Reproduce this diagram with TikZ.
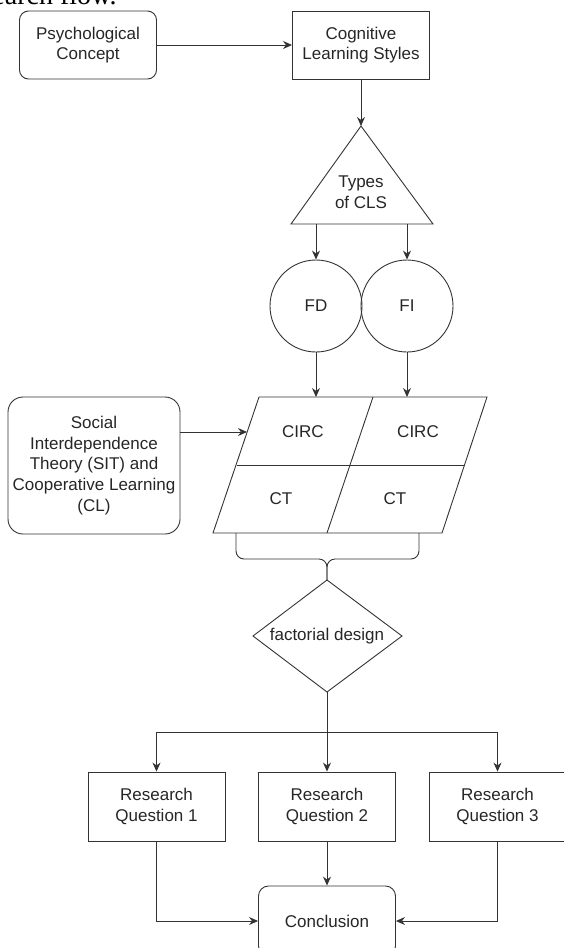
\documentclass[tikz,border=0pt]{standalone}
\usepackage{fontspec}
\setmainfont{Liberation Sans}
\newfontfamily\capfont{Liberation Serif}
\usetikzlibrary{arrows.meta}
\begin{document}
\begin{tikzpicture}[x=1pt,y=-1pt,
  line width=0.9pt,
  every node/.style={font=\fontsize{17}{20.6}\selectfont, align=center, inner sep=0pt, text=black!85},
  box/.style={draw=black!80, minimum width=137pt, minimum height=68pt},
  rbox/.style={box, rounded corners=9pt},
  circ/.style={draw=black!80, circle, minimum size=92pt},
  arr/.style={-{Stealth[length=9pt,width=8pt]}}
]
\useasboundingbox (0,0) rectangle (563,948);
% caption fragment, cut by the top edge as in the reference
\node[font=\capfont\fontsize{28}{30}\selectfont, anchor=base east, text=black] (cap) at (117,4.5) {Research flow.};

\begin{scope}[draw=black!80]
% top row
\node[rbox] (psych) at (88,45) {Psychological\\Concept};
\node[box] (cog) at (361,45) {Cognitive\\Learning Styles};
\draw[arr] (psych) -- (cog);

% triangle
\coordinate (tt) at (361,126);
\coordinate (tl) at (291,224);
\coordinate (tr) at (433,224);
\draw (tt) -- (tr) -- (tl) -- cycle;
\node (types) at (361,192) {Types\\of CLS};
\draw[arr] (cog.south) -- (tt);

% circles
\coordinate (tb1) at (316,224);
\coordinate (tb2) at (407,224);
\node[circ] (fd) at (316,306) {FD};
\node[circ] (fi) at (407,306) {FI};
\draw[arr] (tb1) -- (fd);
\draw[arr] (tb2) -- (fi);

% parallelogram grid
\coordinate (pa) at (259,397);
\coordinate (pb) at (487,397);
\coordinate (pc) at (442,533);
\coordinate (pd) at (213,533);
\draw (pa) -- (pb) -- (pc) -- (pd) -- cycle;
\coordinate (ml) at (236.5,465);
\coordinate (mr) at (464.5,465);
\draw (ml) -- (mr);
\coordinate (dvt) at (373,397);
\coordinate (dvb) at (327,533);
\draw (dvt) -- (dvb);
\node (c1) at (303,432) {CIRC};
\node (c2) at (418,432) {CIRC};
\node (t1) at (281,499) {CT};
\node (t2) at (395,499) {CT};
\coordinate (pin1) at (316,397);
\coordinate (pin2) at (407,397);
\draw[arr] (fd) -- (pin1);
\draw[arr] (fi) -- (pin2);

% SIT box
\node[draw=black!80, rounded corners=15pt, minimum width=172pt, minimum height=137pt] (sit) at (94,465.5)
  {Social\\Interdependence\\Theory (SIT) and\\Cooperative Learning\\(CL)};
\coordinate (pin3) at (247,432);
\draw[arr] (sit.east |- pin3) -- (pin3);

% brace
\coordinate (bl) at (236,533);
\coordinate (br) at (419,533);
\coordinate (bc) at (327,559);
\coordinate (dt) at (327,580);
\draw[rounded corners=8pt] (bl) -- (bl |- bc) -- (bc) -- (dt);
\draw[rounded corners=8pt] (br) -- (br |- bc) -- (bc) -- (dt);

% diamond
\coordinate (dr) at (402,636);
\coordinate (db) at (327,692);
\coordinate (dl) at (253,636);
\draw (dt) -- (dr) -- (db) -- (dl) -- cycle;
\node (fdes) at (327,636) {factorial design};

% research questions
\node[box, minimum height=69pt] (rq1) at (156.5,806.5) {Research\\Question 1};
\node[box, minimum height=69pt] (rq2) at (327,806.5) {Research\\Question 2};
\node[box, minimum height=69pt] (rq3) at (497.5,806.5) {Research\\Question 3};
\coordinate (sp) at (327,732);
\draw (db) -- (sp);
\draw[arr] (sp) -- (rq2);
\draw[arr] (sp) -| (rq1);
\draw[arr] (sp) -| (rq3);

% conclusion
\node[box, rounded corners=10pt, minimum height=70pt] (concl) at (327,921) {Conclusion};
\draw[arr] (rq1) |- (concl);
\draw[arr] (rq2) -- (concl);
\draw[arr] (rq3) |- (concl);
\end{scope}
\end{tikzpicture}
\end{document}
